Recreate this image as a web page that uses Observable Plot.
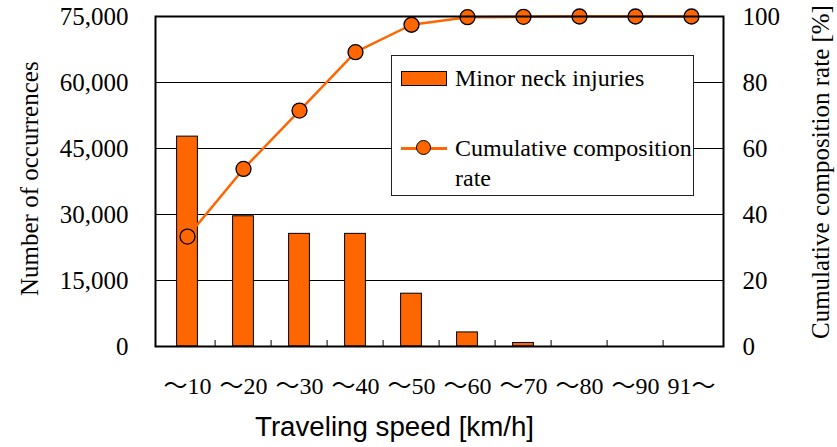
<!DOCTYPE html>
<html>
<head>
<meta charset="utf-8">
<script src="https://cdn.jsdelivr.net/npm/d3@7"></script>
<script src="https://cdn.jsdelivr.net/npm/@observablehq/plot@0.6"></script>
<style>
  html, body { margin: 0; padding: 0; background: #fff; }
  #wrap { position: relative; width: 837px; height: 447px; overflow: hidden; font-family: "Liberation Serif", "Times New Roman", serif; color: #000; }
  .ylab { position: absolute; white-space: nowrap; font-size: 25px; transform-origin: 0 0; transform: rotate(-90deg); line-height: 1; }
  #xtitle { position: absolute; font-family: "Liberation Sans", Arial, sans-serif; font-size: 27.7px; white-space: nowrap; line-height: 1; }
  #legend { position: absolute; left: 391px; top: 55px; width: 301px; height: 139px; background: #fff; border: 1px solid #222; font-size: 24px; }
  #legend .sw { position: absolute; left: 9px; top: 15px; width: 44px; height: 13px; background: #FF6600; border: 1px solid #000; }
  #legend .ln { position: absolute; left: 9px; top: 91px; width: 46px; height: 3px; background: #FF6600; }
  #legend .dot { position: absolute; left: 24px; top: 84px; width: 13px; height: 13px; border-radius: 50%; background: #FF6600; border: 1.5px solid #000; }
  #legend .t1 { position: absolute; left: 63px; top: 7px; white-space: nowrap; line-height: 30px; }
  #legend .t2 { position: absolute; left: 63px; top: 77px; white-space: nowrap; line-height: 30px; }
</style>
</head>
<body>
<div id="wrap"></div>
<script>
const categories = ["～10", "～20", "～30", "～40", "～50", "～60", "～70", "～80", "～90", "91～"];
const injuries = [47700, 29600, 25600, 25600, 12000, 3200, 800, 0, 0, 0];
const cumulativeRate = [33.3, 53.8, 71.5, 89.2, 97.5, 99.8, 99.9, 100, 100, 100];
const leftTicks = [0, 15000, 30000, 45000, 60000, 75000];
const rightTicks = [0, 20, 40, 60, 80, 100];

const yMax = 75000;
const rateFactor = yMax / 100;
const orange = "#FF6600";

const bars = categories.map((c, i) => ({cat: c, value: injuries[i]})).filter(d => d.value > 0);
const rates = categories.map((c, i) => ({cat: c, rate: cumulativeRate[i] * rateFactor}));

const W = 837, H = 447;
const mL = 155, mR = 114, mT = 16, mB = 101;
const step = (W - mL - mR) / categories.length;
const serif = "'Liberation Serif', 'Noto Sans CJK JP', serif";

const chart = Plot.plot({
  width: W,
  height: H,
  marginLeft: mL,
  marginRight: mR,
  marginTop: mT,
  marginBottom: mB,
  style: {fontFamily: serif, fontSize: "25px", color: "#000", background: "#fff"},
  x: {domain: categories, padding: 0, label: null},
  y: {domain: [0, yMax], label: null},
  marks: [
    Plot.ruleY(leftTicks.slice(1, -1), {stroke: "#000", strokeWidth: 1}),
    Plot.barY(bars, {x: "cat", y: "value", fill: orange, stroke: "#000", strokeWidth: 1, insetLeft: step * 0.31, insetRight: step * 0.31}),
    Plot.ruleX(categories.slice(1), {x: d => d, dx: -step / 2, insetTop: (H - mT - mB) - 6, stroke: "#000", strokeWidth: 1}),
    Plot.line(rates, {x: "cat", y: "rate", stroke: orange, strokeWidth: 2.5}),
    Plot.dot(rates, {x: "cat", y: "rate", r: 7.5, fill: orange, stroke: "#000", strokeWidth: 1.3}),
    Plot.frame({stroke: "#000", strokeWidth: 2}),
    Plot.axisY({anchor: "left", ticks: leftTicks, tickFormat: d3.format(","), tickSize: 0, tickPadding: 27, label: null, fontSize: 25, fontFamily: serif}),
    Plot.axisY({anchor: "right", ticks: leftTicks, tickFormat: d => String(Math.round(d / rateFactor)), tickSize: 0, tickPadding: 19, label: null, fontSize: 25, fontFamily: serif}),
    Plot.axisX({anchor: "bottom", tickSize: 0, tickPadding: 30, label: null, fontSize: 24, fontFamily: serif})
  ]
});

const wrap = document.getElementById("wrap");
wrap.appendChild(chart);

const yl = document.createElement("div");
yl.className = "ylab";
yl.textContent = "Number of occurrences";
yl.style.left = "17px";
yl.style.top = "296px";
wrap.appendChild(yl);

const yr = document.createElement("div");
yr.className = "ylab";
yr.textContent = "Cumulative composition rate [%]";
yr.style.left = "808px";
yr.style.top = "339px";
wrap.appendChild(yr);

const xt = document.createElement("div");
xt.id = "xtitle";
xt.textContent = "Traveling speed [km/h]";
xt.style.left = "255px";
xt.style.top = "413px";
wrap.appendChild(xt);

const lg = document.createElement("div");
lg.id = "legend";
lg.innerHTML = '<div class="sw"></div><div class="t1">Minor neck injuries</div>' +
  '<div class="ln"></div><div class="dot"></div><div class="t2">Cumulative composition<br>rate</div>';
wrap.appendChild(lg);
</script>
</body>
</html>
